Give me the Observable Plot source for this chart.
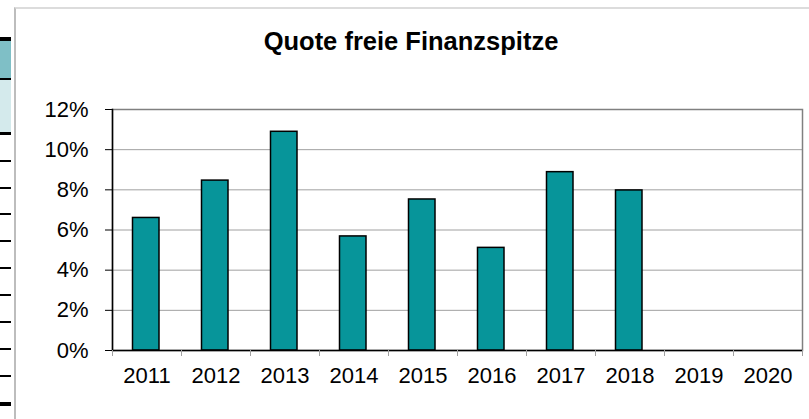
<!DOCTYPE html>
<html>
<head>
<meta charset="utf-8">
<script src="https://cdn.jsdelivr.net/npm/d3@7"></script>
<script src="https://cdn.jsdelivr.net/npm/@observablehq/plot@0.6"></script>
<style>
  html, body { margin: 0; padding: 0; background: #fff; }
  #wrap { position: relative; width: 809px; height: 419px; overflow: hidden; font-family: "Liberation Sans", Arial, sans-serif; }
  #frame { position: absolute; left: 14px; top: 7px; width: 820px; height: 440px; border-left: 2px solid #bdbdbd; border-top: 2px solid #dcdcdc; box-sizing: border-box; }
  #title { position: absolute; left: 0; width: 822px; top: 29px; text-align: center; font-weight: bold; font-size: 25.5px; line-height: 1; color: #000; }
  .strip { position: absolute; left: 0; width: 11px; }
  #chart { position: absolute; left: 0; top: 0; }
</style>
</head>
<body>
<div id="wrap">
  <div class="strip" style="top:37px;height:42px;background:#7fbfc6;border-top:4px solid #000;box-sizing:border-box"></div>
  <div class="strip" style="top:78px;height:57px;background:#d4eaec;border-top:2px solid #000;border-bottom:3px solid #000;box-sizing:border-box"></div>
  <div id="lines"></div>
  <div id="frame"></div>
  <div id="title">Quote freie Finanzspitze</div>
  <div id="chart"></div>
</div>
<script>
const years = ["2011","2012","2013","2014","2015","2016","2017","2018","2019","2020"];
const quotes = [0.066, 0.0846, 0.1089, 0.0568, 0.0752, 0.0511, 0.0888, 0.0797, null, null];
const yTicks = [0, 0.02, 0.04, 0.06, 0.08, 0.10, 0.12];

// decorative spreadsheet row lines at the left edge
const stripLines = [[161,1.5],[188,1.5],[214,1.5],[241,1.5],[268,2.5],[295,1.5],[322,1.5],[349,1.5],[376,1.5],[404,4]];
document.getElementById("lines").innerHTML = stripLines.map(([y,w]) =>
  `<div class="strip" style="top:${y - w/2}px;height:${w}px;background:#000"></div>`).join("");

const data = years.map((year, i) => ({year, quote: quotes[i]})).filter(d => d.quote != null);

const chart = Plot.plot({
  width: 809,
  height: 419,
  marginLeft: 112,
  marginRight: 7,
  marginTop: 109,
  marginBottom: 69,
  style: {background: "transparent", fontFamily: "'Liberation Sans', Arial, sans-serif", color: "#000", overflow: "visible"},
  x: {domain: years, padding: 0},
  y: {domain: [0, 0.12]},
  marks: [
    Plot.ruleY(yTicks.filter(t => t > 0 && t < 0.12), {stroke: "#a0a0a0", strokeWidth: 1}),
    Plot.frame({stroke: "#808080", strokeWidth: 1.5}),
    Plot.barY(data, {x: "year", y: "quote", fill: "#07959a", stroke: "#000", strokeWidth: 1.5, insetLeft: 20.5, insetRight: 22}),
    Plot.ruleY([0], {stroke: "#000", strokeWidth: 1.5}),
    Plot.frame({anchor: "left", stroke: "#000", strokeWidth: 1.5}),
    Plot.axisY({ticks: yTicks, tickFormat: d3.format(".0%"), tickSize: 7, tickPadding: 17, fontSize: 22, stroke: "#000", label: null}),
    Plot.axisX({tickSize: 6, tickFormat: () => "", dx: -34.5, stroke: "#a0a0a0", label: null}),
    Plot.axisX(["2020"], {tickSize: 6, tickFormat: () => "", dx: 34.5, stroke: "#a0a0a0", label: null}),
    Plot.axisX({tickSize: 0, tickPadding: 17, fontSize: 22, label: null})
  ]
});
document.getElementById("chart").appendChild(chart);
</script>
</body>
</html>
